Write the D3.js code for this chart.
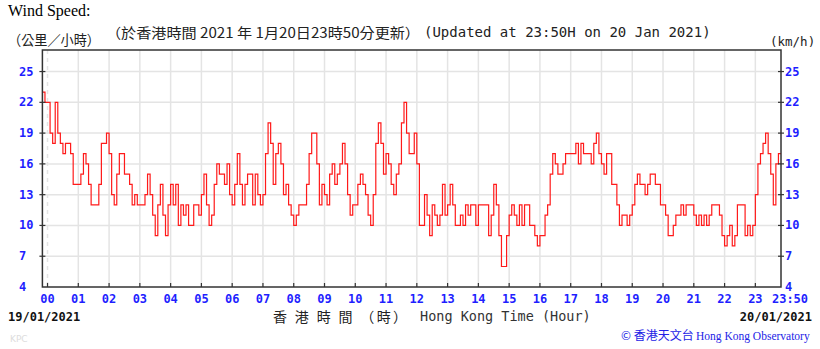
<!DOCTYPE html>
<html>
<head>
<meta charset="utf-8">
<script src="https://cdn.jsdelivr.net/npm/d3@7"></script>
<style>
  body { margin: 0; background: #fff; }
  svg { display: block; }
</style>
</head>
<body>
<div id="chart"></div>
<script>
// wind speed (km/h), one value every 5 minutes, starting 23:50 on 19/01/2021
var lead = [23, 22];
var h00to05 = [
  22, 19, 18, 22, 19, 18, 17, 18, 18, 17, 14, 14,
  14, 15, 17, 16, 14, 12, 12, 12, 14, 18, 18, 19,
  17, 13, 12, 15, 17, 17, 15, 15, 14, 12, 13, 12,
  12, 12, 13, 15, 13, 11, 9, 12, 14, 11, 9, 12,
  14, 12, 14, 10, 12, 11, 12, 10, 10, 12, 12, 11,
  13, 15, 12, 10, 11, 14, 16, 15, 15, 14, 16, 13
];
var h06to11 = [
  12, 14, 17, 14, 12, 14, 15, 15, 12, 15, 13, 12,
  13, 17, 20, 18, 14, 17, 18, 16, 13, 14, 12, 11,
  10, 11, 12, 12, 12, 14, 17, 19, 19, 16, 12, 14,
  13, 12, 15, 16, 14, 15, 16, 18, 16, 13, 11, 12,
  12, 14, 15, 14, 13, 11, 10, 13, 18, 20, 18, 15,
  17, 16, 14, 13, 15, 16, 20, 22, 19, 17, 17, 19
];
var h12to17 = [
  16, 10, 10, 13, 11, 9, 12, 11, 10, 11, 14, 11,
  12, 14, 12, 10, 10, 11, 10, 12, 11, 12, 12, 10,
  12, 12, 12, 12, 9, 11, 14, 12, 9, 6, 6, 9,
  11, 12, 11, 10, 12, 10, 12, 12, 10, 10, 9, 8,
  9, 9, 11, 12, 15, 17, 16, 15, 15, 16, 17, 17,
  17, 17, 18, 16, 18, 17, 17, 17, 16, 18, 19, 17
];
var h18to23 = [
  16, 15, 17, 17, 14, 14, 12, 10, 11, 11, 10, 11,
  12, 14, 15, 14, 14, 13, 14, 15, 15, 14, 14, 12,
  12, 11, 9, 9, 10, 11, 11, 12, 11, 12, 12, 12,
  11, 10, 11, 10, 11, 10, 11, 12, 12, 12, 11, 9,
  8, 9, 10, 8, 9, 12, 12, 12, 9, 10, 9, 10,
  13, 16, 17, 18, 19, 17, 15, 12, 16, 17, 17
];
var yTicks = [4, 7, 10, 13, 16, 19, 22, 25];
var hourLabels = ["00","01","02","03","04","05","06","07","08","09","10","11",
                  "12","13","14","15","16","17","18","19","20","21","22","23"];
var endLabel = "23:50";

var width = 820, height = 349;
var plotLeft = 42.4, plotRight = 781, plotTop = 50, plotBottom = 287;
var blue = "#1f1fff";
var mono = "'DejaVu Sans Mono', 'Liberation Mono', monospace";
var cjk = "'Noto Sans CJK TC', 'Noto Sans CJK SC', sans-serif";

var speeds = lead.concat(h00to05, h06to11, h12to17, h18to23);
var points = speeds.map(function (v, i) { return { t: -10 + 5 * i, v: v }; });

var x = d3.scaleLinear().domain([-10, 1430]).range([plotLeft, plotRight]);
var y = d3.scaleLinear().domain([4, 27.1]).range([plotBottom, plotTop]);

var svg = d3.select('#chart')
  .append('svg')
  .attr('width', width)
  .attr('height', height);

// grid
var hours = d3.range(0, 24).map(function (h) { return h * 60; });
svg.append('g').selectAll('line')
  .data(hours)
  .enter()
  .append('line')
  .attr('x1', function (d) { return x(d); })
  .attr('x2', function (d) { return x(d); })
  .attr('y1', plotTop)
  .attr('y2', plotBottom)
  .attr('stroke', '#e4e4e4')
  .attr('stroke-width', 1.5)
  .attr('stroke-dasharray', function (d) { return d === 0 ? '4,4' : null; });

svg.append('g').selectAll('line')
  .data(yTicks.slice(1))
  .enter()
  .append('line')
  .attr('x1', plotLeft)
  .attr('x2', plotRight)
  .attr('y1', function (d) { return y(d); })
  .attr('y2', function (d) { return y(d); })
  .attr('stroke', '#e4e4e4')
  .attr('stroke-width', 1.5);

// wind line
var line = d3.line()
  .x(function (d) { return x(d.t); })
  .y(function (d) { return y(d.v); })
  .curve(d3.curveStepAfter);

svg.append('path')
  .datum(points)
  .attr('d', line)
  .attr('fill', 'none')
  .attr('stroke', '#ff1a1a')
  .attr('stroke-width', 1.2);

// frame and ticks
svg.append('rect')
  .attr('x', plotLeft)
  .attr('y', plotTop)
  .attr('width', plotRight - plotLeft)
  .attr('height', plotBottom - plotTop)
  .attr('fill', 'none')
  .attr('stroke', '#333')
  .attr('stroke-width', 1.5);

svg.append('g').selectAll('line')
  .data(hours)
  .enter()
  .append('line')
  .attr('x1', function (d) { return x(d); })
  .attr('x2', function (d) { return x(d); })
  .attr('y1', plotBottom)
  .attr('y2', plotBottom - 4)
  .attr('stroke', '#333')
  .attr('stroke-width', 1.2);

[plotLeft, plotRight].forEach(function (ax) {
  svg.append('g').selectAll('line')
    .data(yTicks.slice(1))
    .enter()
    .append('line')
    .attr('x1', ax - 3)
    .attr('x2', ax + 3)
    .attr('y1', function (d) { return y(d); })
    .attr('y2', function (d) { return y(d); })
    .attr('stroke', '#333')
    .attr('stroke-width', 1.2);
});

// y labels both sides
[19, 785].forEach(function (lx) {
  svg.append('g').selectAll('text')
    .data(yTicks)
    .enter()
    .append('text')
    .attr('x', lx)
    .attr('y', function (d) { return y(d) + 4; })
    .attr('font-family', mono)
    .attr('font-weight', 'bold')
    .attr('font-size', 12)
    .attr('fill', blue)
    .text(function (d) { return d; });
});

// x labels
svg.append('g').selectAll('text')
  .data(hourLabels)
  .enter()
  .append('text')
  .attr('x', function (d, i) { return x(i * 60); })
  .attr('y', 303)
  .attr('text-anchor', 'middle')
  .attr('font-family', mono)
  .attr('font-weight', 'bold')
  .attr('font-size', 12)
  .attr('fill', blue)
  .text(function (d) { return d; });

svg.append('text')
  .attr('x', 790)
  .attr('y', 303)
  .attr('text-anchor', 'middle')
  .attr('font-family', mono)
  .attr('font-weight', 'bold')
  .attr('font-size', 12)
  .attr('fill', blue)
  .text(endLabel);

// headings
svg.append('text')
  .attr('x', 8).attr('y', 16)
  .attr('font-family', "'Liberation Serif', serif")
  .attr('font-size', 16)
  .attr('fill', '#000')
  .text('Wind Speed:');

svg.append('text')
  .attr('x', 8).attr('y', 45)
  .attr('font-family', cjk)
  .attr('font-size', 14)
  .attr('fill', '#222')
  .attr('textLength', 92)
  .attr('lengthAdjust', 'spacingAndGlyphs')
  .text('（公里／小時）');

svg.append('text')
  .attr('x', 106).attr('y', 38)
  .attr('font-family', cjk)
  .attr('font-size', 14)
  .attr('fill', '#222')
  .attr('textLength', 314)
  .attr('lengthAdjust', 'spacingAndGlyphs')
  .text('（於香港時間 2021 年 1月20日23時50分更新）');

svg.append('text')
  .attr('x', 424).attr('y', 37)
  .attr('font-family', mono)
  .attr('font-size', 14)
  .attr('fill', '#222')
  .text('(Updated at 23:50H on 20 Jan 2021)');

svg.append('text')
  .attr('x', 770).attr('y', 46)
  .attr('font-family', mono)
  .attr('font-size', 12.5)
  .attr('fill', '#222')
  .text('(km/h)');

// dates and axis title
svg.append('text')
  .attr('x', 8).attr('y', 321)
  .attr('font-family', mono)
  .attr('font-weight', 'bold')
  .attr('font-size', 12)
  .attr('fill', '#111')
  .text('19/01/2021');

svg.append('text')
  .attr('x', 812).attr('y', 321)
  .attr('text-anchor', 'end')
  .attr('font-family', mono)
  .attr('font-weight', 'bold')
  .attr('font-size', 12)
  .attr('fill', '#111')
  .text('20/01/2021');

svg.append('text')
  .attr('x', 273).attr('y', 322)
  .attr('font-family', cjk)
  .attr('font-size', 14)
  .attr('fill', '#222')
  .attr('textLength', 134)
  .attr('lengthAdjust', 'spacing')
  .text('香 港 時 間 （時）');

svg.append('text')
  .attr('x', 420).attr('y', 321)
  .attr('font-family', mono)
  .attr('font-size', 13.5)
  .attr('fill', '#333')
  .text('Hong Kong Time (Hour)');

// credits
svg.append('text')
  .attr('x', 621).attr('y', 340)
  .attr('font-family', cjk)
  .attr('font-size', 12)
  .attr('fill', '#2323e6')
  .text('© 香港天文台');

svg.append('text')
  .attr('x', 696).attr('y', 340)
  .attr('font-family', "'Liberation Serif', serif")
  .attr('font-size', 11.5)
  .attr('fill', '#2323e6')
  .text('Hong Kong Observatory');

svg.append('text')
  .attr('x', 10).attr('y', 342)
  .attr('font-family', "'DejaVu Sans', sans-serif")
  .attr('font-size', 9)
  .attr('fill', '#dddddd')
  .text('KPC');
</script>
</body>
</html>
